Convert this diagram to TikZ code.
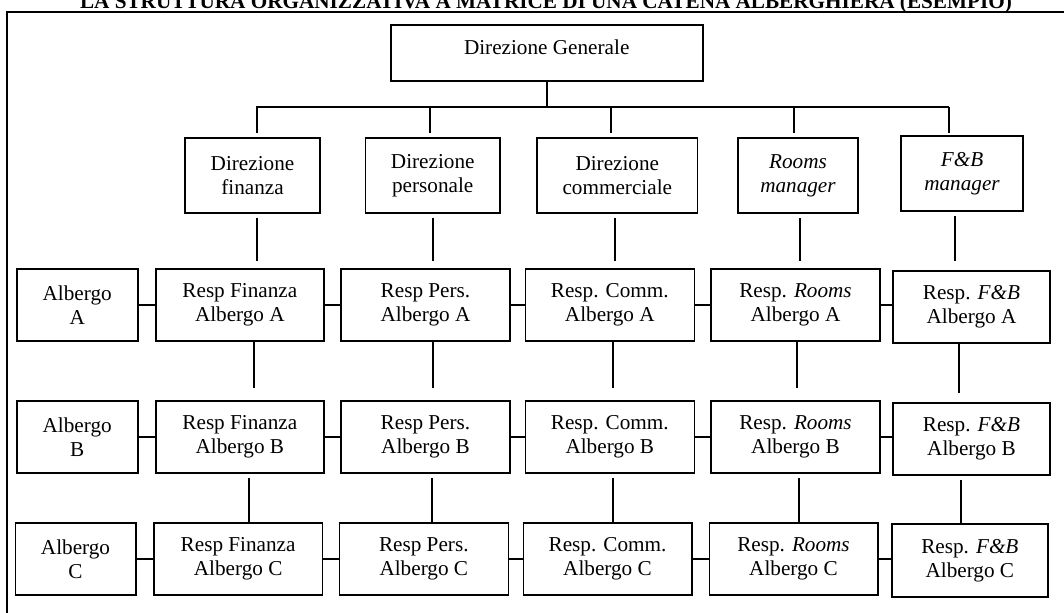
\documentclass[tikz,border=0pt]{standalone}
\usepackage{fontspec}
\setmainfont{Liberation Serif}
\tikzset{
  box/.style={draw, line width=1.2pt, inner sep=0pt, align=center,
              font=\fontsize{15.9}{18}\selectfont},
  wire/.style={line width=1.2pt},
  frame/.style={line width=1.5pt},
  heading/.style={anchor=base, inner sep=0pt,
                  font=\fontsize{15.9}{18}\selectfont\bfseries},
}
% \boxat[extra]{name}{x1}{y1}{x2}{y2}{text}: a box spanning the two corners
\newcommand\boxat[7][]{%
  \node[box, #1,
        minimum width={(#5-#3)*0.75pt}, minimum height={(#6-#4)*0.75pt}]
    (#2) at ({(#3+#5)/2},{(#4+#6)/2}) {#7};}

\begin{document}
\begin{tikzpicture}[x=0.75pt, y=-0.75pt]
\useasboundingbox (0,0) rectangle (1064,613);
\clip (0,0) rectangle (1064,613);

% heading and page frame
\node[heading] (ttl) at (546,8.5)
  {LA STRUTTURA ORGANIZZATIVA A MATRICE DI UNA CATENA ALBERGHIERA (ESEMPIO)};
\draw[frame] (6.5,640) -- (6.5,12) -- (1090,12);

% top management
\boxat[text depth=9pt]{dg}{390.7}{25}{702.7}{81}{Direzione Generale}

% functional directions
\boxat{df}{185}{138}{320}{213}{Direzione\\finanza}
\boxat{dp}{365.5}{138}{500}{213}{Direzione\\personale}
\boxat{dc}{537}{138}{697.6}{213}{Direzione\\commerciale}
\boxat{rm}{738}{138}{858}{213}{\textit{Rooms}\\\textit{manager}}
\boxat{fm}{901}{136}{1023}{211}{\textit{F\&B}\\\textit{manager}}

% hotel A
\boxat{aA}{16.7}{269}{137.7}{341}{Albergo\\A}
\boxat{fA}{155.7}{269}{324}{341}{Resp Finanza\\Albergo A}
\boxat{pA}{341}{269}{510}{341}{Resp Pers.\\Albergo A}
\boxat{cA}{525.3}{269}{694.3}{341}{Resp. Comm.\\Albergo A}
\boxat{rA}{711}{269}{880}{341}{Resp. \textit{Rooms}\\Albergo A}
\boxat{bA}{893}{271}{1050}{343}{Resp. \textit{F\&B}\\Albergo A}

% hotel B
\boxat{aB}{16.7}{401}{137.7}{473}{Albergo\\B}
\boxat{fB}{155.7}{401}{324}{473}{Resp Finanza\\Albergo B}
\boxat{pB}{341}{401}{510}{473}{Resp Pers.\\Albergo B}
\boxat{cB}{525.3}{401}{694.3}{473}{Resp. Comm.\\Albergo B}
\boxat{rB}{711}{401}{880}{473}{Resp. \textit{Rooms}\\Albergo B}
\boxat{bB}{893}{403}{1050}{475}{Resp. \textit{F\&B}\\Albergo B}

% hotel C
\boxat{aC}{15.3}{523}{135.7}{595}{Albergo\\C}
\boxat{fC}{154}{523}{322.3}{595}{Resp Finanza\\Albergo C}
\boxat{pC}{339.3}{523}{508.3}{595}{Resp Pers.\\Albergo C}
\boxat{cC}{523.3}{523}{691.7}{595}{Resp. Comm.\\Albergo C}
\boxat{rC}{709.3}{523}{877.7}{595}{Resp. \textit{Rooms}\\Albergo C}
\boxat{bC}{891.7}{524}{1048}{597}{Resp. \textit{F\&B}\\Albergo C}

% bus from the top management to the directions
\coordinate (busL) at (256,107);
\coordinate (busR) at (949,107);
\draw[wire] (dg.south) -- (dg.south |- busL);
\draw[wire] (busL) -- (busR);
\foreach \nm/\x in {df/257, dp/430, dc/611, rm/794, fm/949} {
  \coordinate (t\nm) at (\x,133);
  \draw[wire] (t\nm |- busL) -- (t\nm);
}

% directions down to hotel A
\foreach \nm/\x in {df/257, dp/433, dc/615, rm/800, fm/955} {
  \coordinate (u\nm) at (\x,261);
  \draw[wire, shorten <=3pt] (\nm.south -| u\nm) -- (u\nm);
}

% hotel A down towards hotel B
\foreach \nm/\x/\y in {fA/254/388, pA/433/388, cA/613/388, rA/797/388, bA/959/393} {
  \coordinate (v\nm) at (\x,\y);
  \draw[wire] (\nm.south -| v\nm) -- (v\nm);
}

% hotel B down to hotel C
\foreach \up/\dn/\x in {fB/fC/249, pB/pC/431.7, cB/cC/613, rB/rC/799, bB/bC/961} {
  \coordinate (w\up) at (\x,0);
  \draw[wire, shorten <=3pt] (\up.south -| w\up) -- (\dn.north -| w\up);
}

% links across each hotel row
\foreach \r in {A,B,C} {
  \draw[wire] (a\r.east) -- (f\r.west);
  \draw[wire] (f\r.east) -- (p\r.west);
  \draw[wire] (p\r.east) -- (c\r.west);
  \draw[wire] (c\r.east) -- (r\r.west);
  \draw[wire] (r\r.east) -- (r\r.east -| b\r.west);
}
\end{tikzpicture}
\end{document}
